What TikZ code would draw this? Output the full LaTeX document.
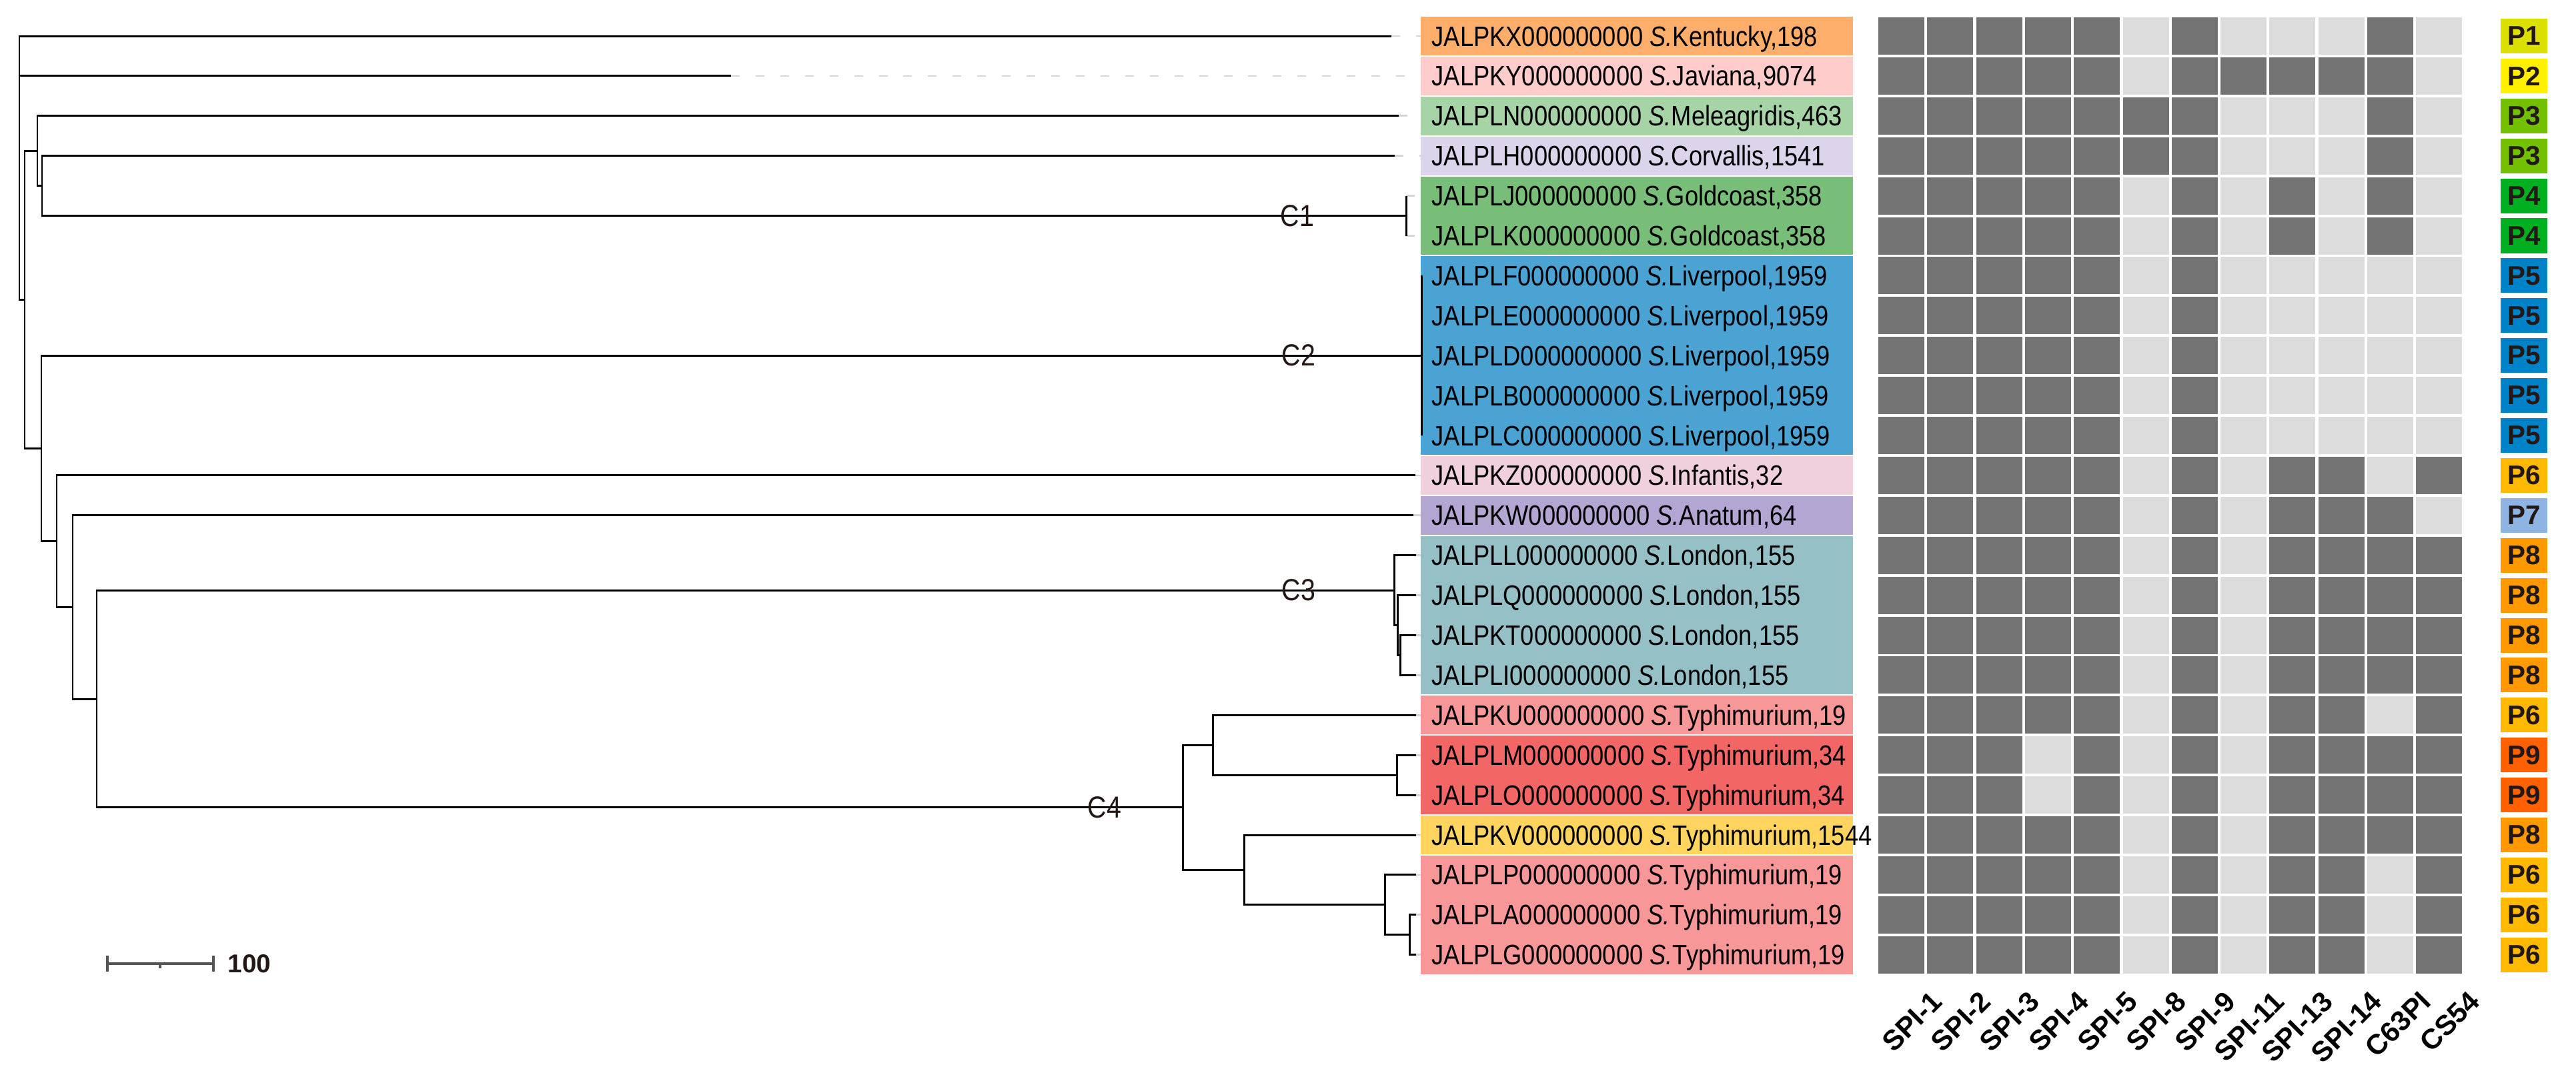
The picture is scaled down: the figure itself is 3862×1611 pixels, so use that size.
\documentclass[tikz,border=0pt]{standalone}
\usepackage{fontspec}
\setmainfont{Liberation Sans}
\newfontfamily\labfont[FakeStretch=0.86]{Liberation Sans}
\definecolor{cdark}{HTML}{737373}
\definecolor{clight}{HTML}{DCDCDC}
\definecolor{kent}{HTML}{FDAE6B}
\definecolor{javi}{HTML}{FFCCCC}
\definecolor{mele}{HTML}{A6D4A6}
\definecolor{corv}{HTML}{DCD4EA}
\definecolor{gold}{HTML}{78BE78}
\definecolor{liver}{HTML}{4BA3D3}
\definecolor{infa}{HTML}{F0D0DC}
\definecolor{anat}{HTML}{B3A6D2}
\definecolor{lond}{HTML}{94C0C6}
\definecolor{typh}{HTML}{F89797}
\definecolor{typhb}{HTML}{F26666}
\definecolor{typhc}{HTML}{FFD560}
\definecolor{pone}{HTML}{DCE000}
\definecolor{ptwo}{HTML}{FFF000}
\definecolor{pthree}{HTML}{72C000}
\definecolor{pfour}{HTML}{00B020}
\definecolor{pfive}{HTML}{0082C8}
\definecolor{psix}{HTML}{FFB900}
\definecolor{pseven}{HTML}{8DB4E2}
\definecolor{peight}{HTML}{FF9900}
\definecolor{pnine}{HTML}{FF6000}
\definecolor{tdark}{HTML}{231815}
\definecolor{guidegray}{HTML}{D6D6D6}
\definecolor{sbgray}{HTML}{555555}
\begin{document}
\begin{tikzpicture}[x=0.01cm, y=-0.01cm,
  br/.style={line width=0.85pt, draw=black},
  guide/.style={line width=0.8pt, draw=guidegray, dash pattern=on 3.7pt off 6.8pt},
  lab/.style={anchor=base west, inner sep=0pt, font=\labfont\fontsize{12}{14}\selectfont},
  clab/.style={inner sep=0pt, font=\labfont\fontsize{13}{15}\selectfont, text=tdark},
  pbox/.style={minimum width=0.7cm, minimum height=0.52cm, inner sep=0pt, font=\bfseries\fontsize{11.5}{13}\selectfont, text=tdark},
  collab/.style={rotate=45, anchor=east, inner sep=0pt, font=\bfseries\fontsize{12}{14}\selectfont},
  sbar/.style={line width=1.1pt, draw=sbgray}]
\useasboundingbox (0,0) rectangle (3862,1611);

% label background bands
\foreach \a/\b/\c in {1/1/kent, 2/2/javi, 3/3/mele, 4/4/corv, 5/6/gold, 7/11/liver,
  12/12/infa, 13/13/anat, 14/17/lond, 18/18/typh, 19/20/typhb, 21/21/typhc, 22/24/typh}
  \fill[\c] (2130, {54+(\a-1)*59.9-28.95}) rectangle (2778, {54+(\b-1)*59.9+28.95});

% rows: labels, heatmap, P boxes
\foreach \k/\acc/\sero/\num/\heat/\pc/\pl in {
 1/JALPKX/Kentucky/198/{1,1,1,1,1,0,1,0,0,0,1,0}/pone/P1,
 2/JALPKY/Javiana/9074/{1,1,1,1,1,0,1,1,1,1,1,0}/ptwo/P2,
 3/JALPLN/Meleagridis/463/{1,1,1,1,1,1,1,0,0,0,1,0}/pthree/P3,
 4/JALPLH/Corvallis/1541/{1,1,1,1,1,1,1,0,0,0,1,0}/pthree/P3,
 5/JALPLJ/Goldcoast/358/{1,1,1,1,1,0,1,0,1,0,1,0}/pfour/P4,
 6/JALPLK/Goldcoast/358/{1,1,1,1,1,0,1,0,1,0,1,0}/pfour/P4,
 7/JALPLF/Liverpool/1959/{1,1,1,1,1,0,1,0,0,0,0,0}/pfive/P5,
 8/JALPLE/Liverpool/1959/{1,1,1,1,1,0,1,0,0,0,0,0}/pfive/P5,
 9/JALPLD/Liverpool/1959/{1,1,1,1,1,0,1,0,0,0,0,0}/pfive/P5,
 10/JALPLB/Liverpool/1959/{1,1,1,1,1,0,1,0,0,0,0,0}/pfive/P5,
 11/JALPLC/Liverpool/1959/{1,1,1,1,1,0,1,0,0,0,0,0}/pfive/P5,
 12/JALPKZ/Infantis/32/{1,1,1,1,1,0,1,0,1,1,0,1}/psix/P6,
 13/JALPKW/Anatum/64/{1,1,1,1,1,0,1,0,1,1,1,0}/pseven/P7,
 14/JALPLL/London/155/{1,1,1,1,1,0,1,0,1,1,1,1}/peight/P8,
 15/JALPLQ/London/155/{1,1,1,1,1,0,1,0,1,1,1,1}/peight/P8,
 16/JALPKT/London/155/{1,1,1,1,1,0,1,0,1,1,1,1}/peight/P8,
 17/JALPLI/London/155/{1,1,1,1,1,0,1,0,1,1,1,1}/peight/P8,
 18/JALPKU/Typhimurium/19/{1,1,1,1,1,0,1,0,1,1,0,1}/psix/P6,
 19/JALPLM/Typhimurium/34/{1,1,1,0,1,0,1,0,1,1,1,1}/pnine/P9,
 20/JALPLO/Typhimurium/34/{1,1,1,0,1,0,1,0,1,1,1,1}/pnine/P9,
 21/JALPKV/Typhimurium/1544/{1,1,1,1,1,0,1,0,1,1,1,1}/peight/P8,
 22/JALPLP/Typhimurium/19/{1,1,1,1,1,0,1,0,1,1,0,1}/psix/P6,
 23/JALPLA/Typhimurium/19/{1,1,1,1,1,0,1,0,1,1,0,1}/psix/P6,
 24/JALPLG/Typhimurium/19/{1,1,1,1,1,0,1,0,1,1,0,1}/psix/P6}{
  \pgfmathsetmacro{\yy}{54+(\k-1)*59.9}
  \node[lab] (lab\k) at (2146, {\yy+15}) {\acc000000000 \textit{S.}\sero,\num};
  \coordinate (e\k) at (2130, \yy);
  \foreach \v [count=\j from 0] in \heat {
    \ifnum\v=1 \def\cc{cdark}\else\def\cc{clight}\fi
    \fill[\cc] ({2816+73.3*\j}, {\yy-28}) rectangle ++(69, 56);
  }
  \node[pbox, fill=\pc] (p\k) at (3784, \yy) {\pl};
}

% column labels
\foreach \t [count=\j from 0] in {SPI-1,SPI-2,SPI-3,SPI-4,SPI-5,SPI-8,SPI-9,SPI-11,SPI-13,SPI-14,C63PI,CS54}
  \node[collab] (col\j) at ({2904+73.3*\j}, 1494) {\t};

% tree tips
\foreach \k/\tx in {1/2086, 2/1096, 3/2097, 4/2091, 5/2108, 6/2108, 7/2131, 8/2131, 9/2131,
  10/2131, 11/2131, 12/2122, 13/2119, 14/2123, 15/2123, 16/2123, 17/2123, 18/2123,
  19/2123, 20/2123, 21/2123, 22/2123, 23/2123, 24/2123}
  \coordinate (t\k) at (\tx, {54+(\k-1)*59.9});

% guide lines from tips to labels
\foreach \k in {1,2,3,4,5,6,12,13,14,15,16,17,18,19,20,21,22,23,24}
  \draw[guide] (t\k) -- (e\k);

% internal nodes
\coordinate (nR) at (29, 251.6);
\coordinate (nA) at (37, 449.3);
\coordinate (nB) at (56, 226.2);
\coordinate (nB2) at (63, 278.6);
\coordinate (nG) at (2108, 323.5);
\coordinate (nC) at (62, 672.4);
\coordinate (nL) at (2131, 533.2);
\coordinate (nD) at (85, 811.7);
\coordinate (nE) at (109, 910.4);
\coordinate (nF) at (145, 1048.0);
\coordinate (nK) at (2090, 885.1);
\coordinate (nK2) at (2095, 937.5);
\coordinate (nK3) at (2099, 982.5);
\coordinate (nT) at (1773, 1210.8);
\coordinate (nU) at (1818, 1117.2);
\coordinate (nUM) at (2094, 1162.2);
\coordinate (nV) at (1865, 1304.4);
\coordinate (nVL) at (2076, 1356.8);
\coordinate (nVLL) at (2113, 1401.75);

% branches
\draw[br] (nR) |- (t1);
\draw[br] (nR) |- (t2);
\draw[br] (nR) |- (nA);
\draw[br] (nA) |- (nB);
\draw[br] (nA) |- (nC);
\draw[br] (nB) |- (t3);
\draw[br] (nB) |- (nB2);
\draw[br] (nB2) |- (t4);
\draw[br] (nB2) |- (nG);
\draw[br] (nG) |- (t5);
\draw[br] (nG) |- (t6);
\draw[br] (nC) |- (nL);
\draw[br] (nC) |- (nD);
\foreach \k in {7,...,11} \draw[br] (nL) |- (t\k);
\draw[br] (nD) |- (t12);
\draw[br] (nD) |- (nE);
\draw[br] (nE) |- (t13);
\draw[br] (nE) |- (nF);
\draw[br] (nF) |- (nK);
\draw[br] (nF) |- (nT);
\draw[br] (nK) |- (t14);
\draw[br] (nK) |- (nK2);
\draw[br] (nK2) |- (t15);
\draw[br] (nK2) |- (nK3);
\draw[br] (nK3) |- (t16);
\draw[br] (nK3) |- (t17);
\draw[br] (nT) |- (nU);
\draw[br] (nT) |- (nV);
\draw[br] (nU) |- (t18);
\draw[br] (nU) |- (nUM);
\draw[br] (nUM) |- (t19);
\draw[br] (nUM) |- (t20);
\draw[br] (nV) |- (t21);
\draw[br] (nV) |- (nVL);
\draw[br] (nVL) |- (t22);
\draw[br] (nVL) |- (nVLL);
\draw[br] (nVLL) |- (t23);
\draw[br] (nVLL) |- (t24);

% clade labels
\node[clab] (c1) at (1945, 323.5) {C1};
\node[clab] (c2) at (1947, 533.2) {C2};
\node[clab] (c3) at (1947, 885.1) {C3};
\node[clab] (c4) at (1656, 1210.8) {C4};

% scale bar
\coordinate (sb1) at (161, 1445);
\coordinate (sb2) at (320, 1445);
\coordinate (sbm) at (240, 1445);
\draw[sbar] (sb1) -- (sb2);
\draw[sbar] ([yshift=0.12cm]sb1) -- ([yshift=-0.12cm]sb1);
\draw[sbar] ([yshift=0.12cm]sb2) -- ([yshift=-0.12cm]sb2);
\draw[sbar] (sbm) -- ([yshift=-0.07cm]sbm);
\node[anchor=west, inner sep=0pt, font=\bfseries\fontsize{11}{13}\selectfont, text=tdark] (sbl) at (341, 1445) {100};
\end{tikzpicture}
\end{document}
